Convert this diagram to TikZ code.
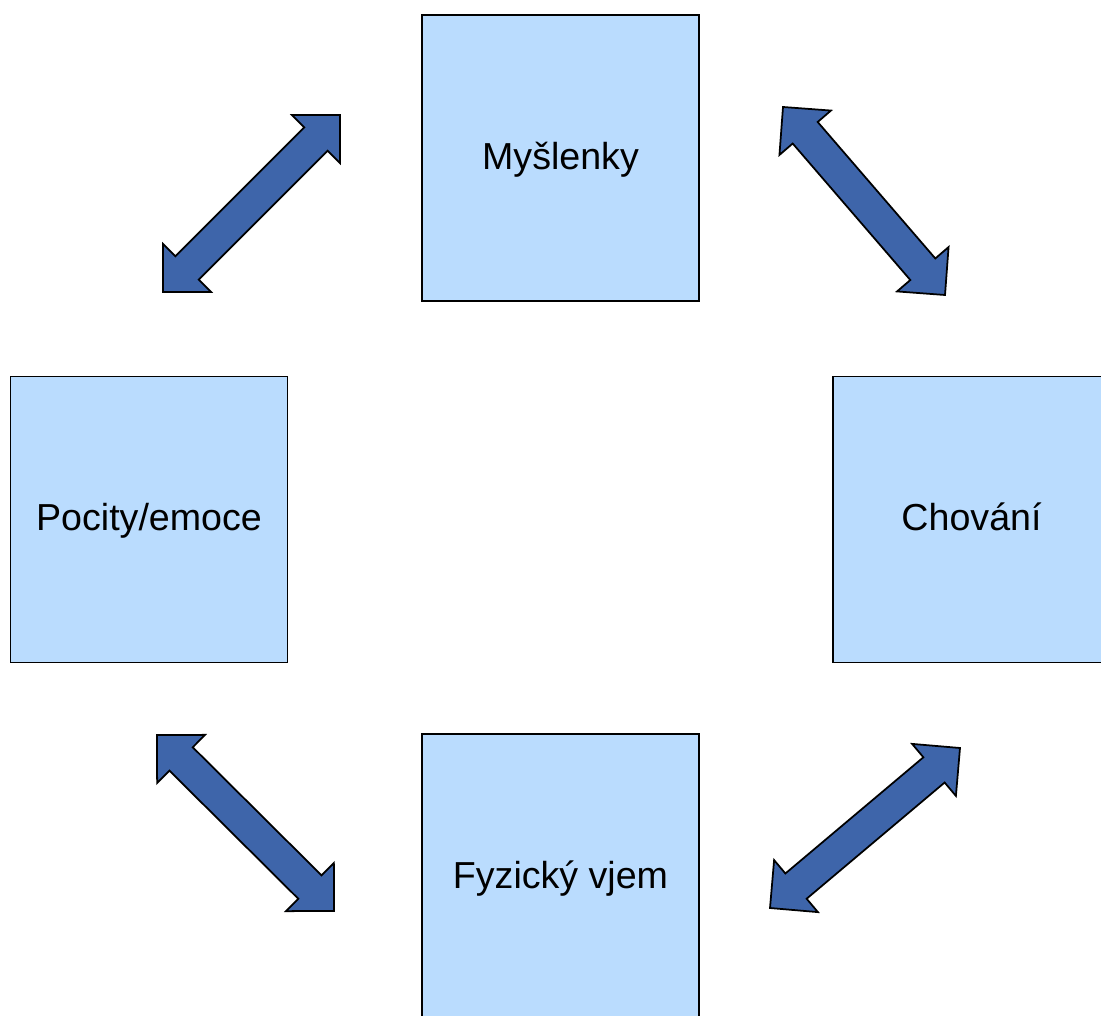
\documentclass[tikz,border=0pt]{standalone}
\usepackage{fontspec}
\setmainfont{Liberation Sans}
\usepackage{tikz}
\usetikzlibrary{calc}

\definecolor{boxblue}{RGB}{186,220,254}
\definecolor{arrowblue}{RGB}{62,101,170}

\tikzset{
    box/.style={rectangle, draw=black, line width=.8pt, fill=boxblue,
        minimum width=5.54cm, minimum height=5.72cm,
        text height=12.8pt, text depth=0pt,
        font=\fontsize{21.4}{25}\selectfont},
    link/.style={draw=black, line width=1pt, fill=arrowblue, line join=miter,
        to path={(\tikztostart)
            -- ($(\tikztostart)!0.68cm!(\tikztotarget)!0.68cm!90:(\tikztotarget)$)
            -- ($(\tikztostart)!0.68cm!(\tikztotarget)!0.33cm!90:(\tikztotarget)$)
            -- ($(\tikztotarget)!0.68cm!(\tikztostart)!0.33cm!-90:(\tikztostart)$)
            -- ($(\tikztotarget)!0.68cm!(\tikztostart)!0.68cm!-90:(\tikztostart)$)
            -- (\tikztotarget)
            -- ($(\tikztotarget)!0.68cm!(\tikztostart)!0.68cm!90:(\tikztostart)$)
            -- ($(\tikztotarget)!0.68cm!(\tikztostart)!0.33cm!90:(\tikztostart)$)
            -- ($(\tikztostart)!0.68cm!(\tikztotarget)!0.33cm!-90:(\tikztotarget)$)
            -- ($(\tikztostart)!0.68cm!(\tikztotarget)!0.68cm!-90:(\tikztotarget)$)
            -- cycle}}
}

\begin{document}
\begin{tikzpicture}[x=0.02cm, y=-0.02cm]
            \useasboundingbox (0,0) rectangle (1101,1016);
            \clip (0,0) rectangle (1101,1016);
            % Boxes
            \foreach \name/\i/\x/\y in {Myšlenky/1/560.5/158,Chování/2/971.5/519.5,Fyzický vjem/3/560.5/877,{Pocity/emoce}/4/149/519.5} {
                \node[box] (Box-\i) at (\x,\y) {\name};
            }
            % Arrow ends
            \foreach \i/\xa/\ya/\xb/\yb in {1/163/292/340/115,2/783/107/945/295,3/157/735/334/911,4/770/908/960/748} {
                \coordinate (Start-\i) at (\xa,\ya);
                \coordinate (End-\i) at (\xb,\yb);
            }
            % Arrows
            \foreach \i in {1,2,3,4} {
                \draw[link] (Start-\i) to (End-\i);
            }
\end{tikzpicture}
\end{document}
